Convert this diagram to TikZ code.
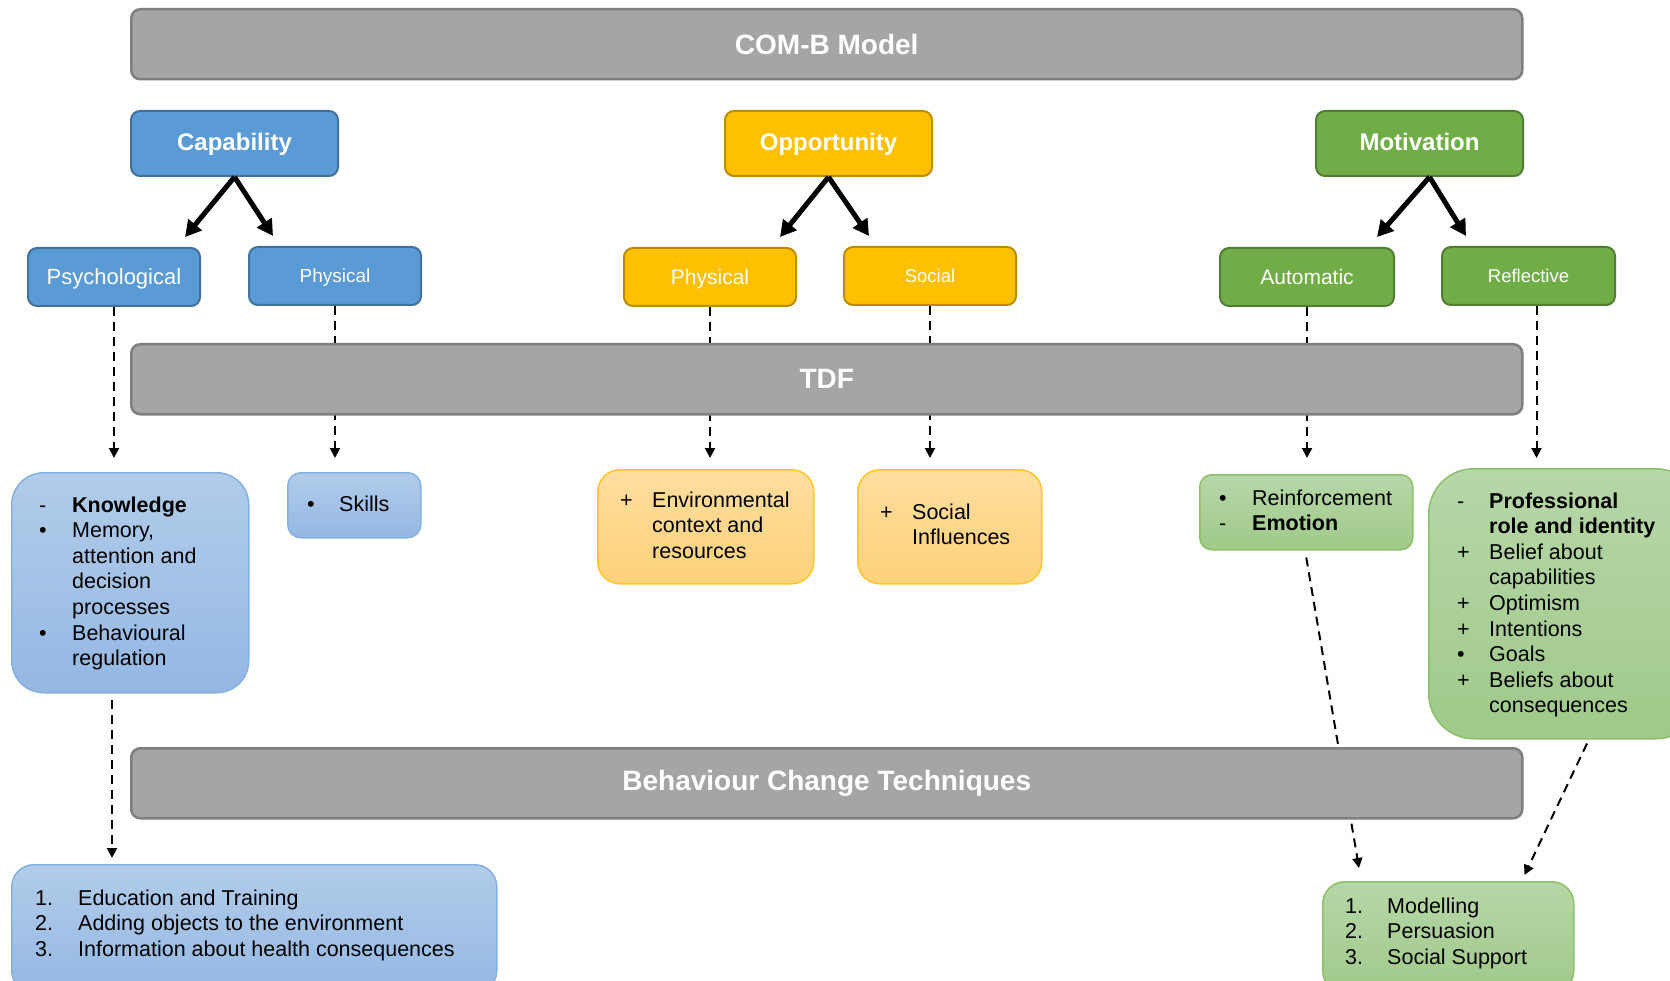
\documentclass[tikz,border=0pt]{standalone}
\usepackage{fontspec}
\setmainfont{Liberation Sans}
\usetikzlibrary{arrows.meta,calc}
\pgfdeclarelayer{bg}
\pgfsetlayers{bg,main}

\definecolor{barfill}{HTML}{A5A5A5}
\definecolor{barline}{HTML}{7F7F7F}
\definecolor{capfill}{HTML}{5B9BD5}
\definecolor{capline}{HTML}{41719C}
\definecolor{oppfill}{HTML}{FFC000}
\definecolor{oppline}{HTML}{BC8C00}
\definecolor{motfill}{HTML}{70AD47}
\definecolor{motline}{HTML}{507E32}
\definecolor{ltbluetop}{HTML}{B2CCEA}
\definecolor{ltbluebot}{HTML}{94B8E3}
\definecolor{ltblueline}{HTML}{86B0DE}
\definecolor{ltyeltop}{HTML}{FFDE9F}
\definecolor{ltyelbot}{HTML}{FFD27A}
\definecolor{ltyelline}{HTML}{FFC72A}
\definecolor{ltgrntop}{HTML}{B6D7A8}
\definecolor{ltgrnbot}{HTML}{A0C98A}
\definecolor{ltgrnline}{HTML}{8DC06B}

% two-column list: marker column of width #1, then the item text
\newcommand\itemrows[2]{\begin{tabular}[t]{@{}p{#1}@{}l@{}}#2\end{tabular}}

\tikzset{
  bar/.style={draw=barline, line width=2.5pt, fill=barfill, rounded corners=9pt,
    text=white, font=\bfseries\fontsize{28}{32}\selectfont, anchor=north west,
    inner sep=0pt, minimum width=1391pt, minimum height=70pt},
  headbox/.style={line width=2pt, rounded corners=9pt, text=white,
    anchor=north west, inner sep=0pt},
  capbox/.style={headbox, draw=capline, fill=capfill},
  oppbox/.style={headbox, draw=oppline, fill=oppfill},
  motbox/.style={headbox, draw=motline, fill=motfill},
  toplevel/.style={minimum width=207pt, minimum height=65pt,
    text height=19pt, text depth=4pt,
    font=\bfseries\fontsize{24}{28}\selectfont},
  sublevel/.style={minimum width=172pt, minimum height=58pt,
    text height=0.88*#1pt, text depth=0.18*#1pt,
    font=\fontsize{#1}{24}\selectfont},
  litebox/.style={line width=1.5pt, anchor=north west, inner sep=0pt},
  ltblue/.style={litebox, draw=ltblueline, top color=ltbluetop, bottom color=ltbluebot},
  ltyel/.style={litebox, draw=ltyelline, top color=ltyeltop, bottom color=ltyelbot},
  ltgrn/.style={litebox, draw=ltgrnline, top color=ltgrntop, bottom color=ltgrnbot},
  listtext/.style={anchor=base west, inner sep=0pt, font=\fontsize{21.5}{25.6}\selectfont},
  split/.style={line width=5pt, -{Triangle[length=16pt,width=17pt]}},
  flow/.style={line width=2pt, dash pattern=on 9pt off 6pt,
    -{Triangle[length=10pt,width=10pt]}},
}

\begin{document}
\begin{tikzpicture}[x=1pt,y=-1pt]
\clip (0,0) rectangle (1670,981);

% grey layer bars
\node[bar] (comb) at (130,8) {COM-B Model};
\node[bar] (tdf) at (130,343) {TDF};
\node[bar] (bct) at (130,747) {Behaviour Change Techniques};

% COM-B components
\node[capbox,toplevel] (cap) at (130,110) {Capability};
\node[oppbox,toplevel] (opp) at (724,110) {Opportunity};
\node[motbox,toplevel] (mot) at (1315,110) {Motivation};

\node[capbox,sublevel=22] (psy) at (27,247) {Psychological};
\node[capbox,sublevel=19] (phys1) at (248,246) {Physical};
\node[oppbox,sublevel=21] (phys2) at (623,247) {Physical};
\node[oppbox,sublevel=18.5] (soc) at (843,246) {Social};
\node[motbox,sublevel=21,minimum width=174pt] (auto) at (1219,247) {Automatic};
\node[motbox,sublevel=18.5,minimum width=173pt] (refl) at (1441,246) {Reflective};

% TDF domain boxes
\node[ltblue,minimum width=237pt,minimum height=220pt,rounded corners=32pt] (know) at (11,472) {};
\node[ltblue,minimum width=133pt,minimum height=65pt,rounded corners=13pt] (skill) at (287,472) {};
\node[ltyel,minimum width=216pt,minimum height=114pt,rounded corners=22pt] (env) at (597,469) {};
\node[ltyel,minimum width=184pt,minimum height=114pt,rounded corners=22pt] (sinf) at (857,469) {};
\node[ltgrn,minimum width=213pt,minimum height=75pt,rounded corners=12pt] (reinf) at (1199,474) {};
\node[ltgrn,minimum width=272pt,minimum height=270pt,rounded corners=45pt] (prof) at (1428,468) {};

% technique boxes
\node[ltblue,minimum width=485pt,minimum height=128pt,rounded corners=22pt] (bl) at (11,864) {};
\node[ltgrn,minimum width=251pt,minimum height=111pt,rounded corners=22pt] (br) at (1322,881) {};

% box texts
\node[listtext] (knowt) at (39,512) {\itemrows{33pt}{%
  -&\textbf{Knowledge}\\
  \textbullet&Memory,\\
  &attention and\\
  &decision\\
  &processes\\
  \textbullet&Behavioural\\
  &regulation}};
\node[listtext] (skillt) at (307,511) {\itemrows{32pt}{\textbullet&Skills}};
\node[listtext] (envt) at (620,507) {\itemrows{32pt}{%
  +&Environmental\\
  &context and\\
  &resources}};
\node[listtext] (sinft) at (880,519) {\itemrows{32pt}{%
  +&Social\\
  &Influences}};
\node[listtext] (reinft) at (1219,505) {\itemrows{33pt}{%
  \textbullet&Reinforcement\\
  -&\textbf{Emotion}}};
\node[listtext] (proft) at (1457,508) {\itemrows{32pt}{%
  -&\textbf{Professional}\\
  &\textbf{role and identity}\\
  +&Belief about\\
  &capabilities\\
  +&Optimism\\
  +&Intentions\\
  \textbullet&Goals\\
  +&Beliefs about\\
  &consequences}};
\node[listtext] (blt) at (35,905) {\itemrows{43pt}{%
  1.&Education and Training\\
  2.&Adding objects to the environment\\
  3.&Information about health consequences}};
\node[listtext] (brt) at (1345,913) {\itemrows{42pt}{%
  1.&Modelling\\
  2.&Persuasion\\
  3.&Social Support}};

% component splits
\draw[split] (cap.south) -- ($(psy.north east)+(-16,-10)$);
\draw[split] (cap.south) -- ($(phys1.north west)+(25,-10)$);
\draw[split] (opp.south) -- ($(phys2.north east)+(-17,-10)$);
\draw[split] (opp.south) -- ($(soc.north west)+(26,-10)$);
\draw[split] ($(mot.south)+(10,0)$) -- ($(auto.north east)+(-18,-10)$);
\draw[split] ($(mot.south)+(10,0)$) -- ($(refl.north west)+(25,-10)$);

% white page and dashed links, running behind the bars
\begin{pgfonlayer}{bg}
\fill[white] (0,0) rectangle (1670,981);
\draw[flow] (psy.south) -- ($(psy.south |- know.north)+(0,-14)$);
\draw[flow] (phys1.south) -- ($(phys1.south |- skill.north)+(0,-14)$);
\draw[flow] (phys2.south) -- ($(phys2.south |- env.north)+(0,-11)$);
\draw[flow] (soc.south) -- ($(soc.south |- sinf.north)+(0,-11)$);
\draw[flow] (auto.south) -- ($(auto.south |- reinf.north)+(0,-16)$);
\draw[flow] ($(refl.south)+(8,0)$) -- ($(refl.south |- prof.north)+(8,-10)$);
\draw[flow] ($(know.south west)+(101,6)$) -- ($(bl.north west)+(101,-6)$);
\draw[flow] ($(reinf.south)+(0,7)$) -- ($(br.north west)+(37,-13)$);
\draw[flow] ($(prof.south west)+(159,4)$) -- ($(br.north east)+(-50,-6)$);
\end{pgfonlayer}
\end{tikzpicture}
\end{document}
